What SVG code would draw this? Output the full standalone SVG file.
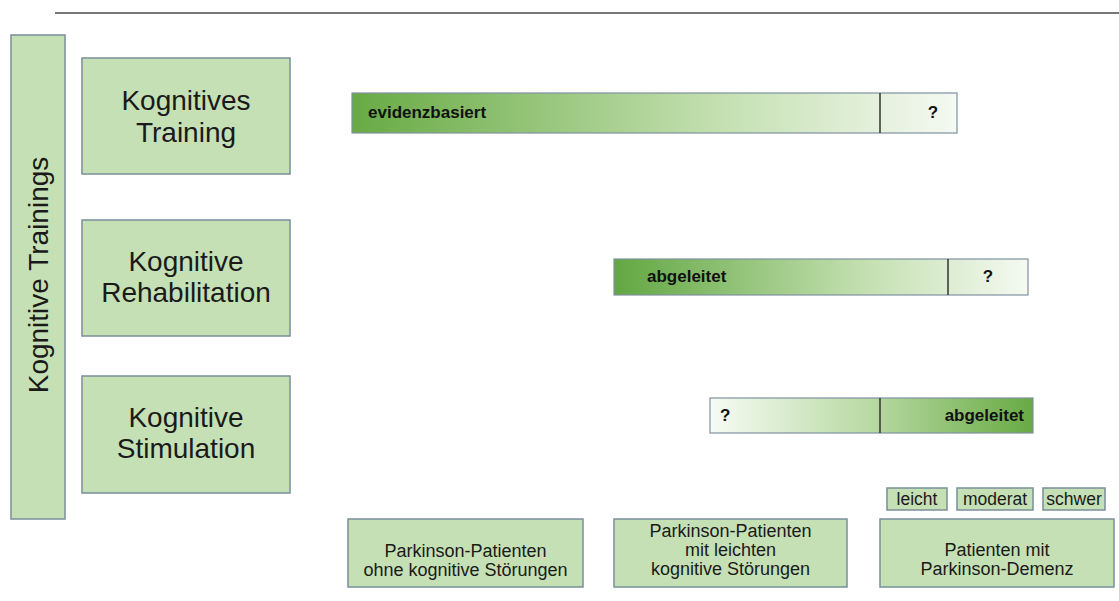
<svg xmlns="http://www.w3.org/2000/svg" width="1119" height="601" viewBox="0 0 1119 601">
  <defs>
    <linearGradient id="g1" x1="0" y1="0" x2="1" y2="0">
      <stop offset="0" stop-color="#68aa44"/>
      <stop offset="0.6" stop-color="#c3dfb0"/>
      <stop offset="1" stop-color="#f5f9f2"/>
    </linearGradient>
    <linearGradient id="g2" x1="0" y1="0" x2="1" y2="0">
      <stop offset="0" stop-color="#62a742"/>
      <stop offset="0.6" stop-color="#c3dfb0"/>
      <stop offset="1" stop-color="#f5f9f2"/>
    </linearGradient>
    <linearGradient id="g3" x1="0" y1="0" x2="1" y2="0">
      <stop offset="0" stop-color="#f7fbf4"/>
      <stop offset="0.5" stop-color="#b8d9a3"/>
      <stop offset="1" stop-color="#68aa44"/>
    </linearGradient>
    <style>
      .box { fill: #c5e0b4; stroke: #7a8f9a; stroke-width: 1.5; }
      .bar { stroke: #7f92a0; stroke-width: 1.2; }
      .div { stroke: #333333; stroke-width: 1.5; }
      .big { font-family: "Liberation Sans", Arial, sans-serif; font-size: 28px; fill: #1a1a1a; text-anchor: middle; }
      .mid { font-family: "Liberation Sans", Arial, sans-serif; font-size: 18px; fill: #1a1a1a; text-anchor: middle; }
      .sm { font-family: "Liberation Sans", Arial, sans-serif; font-size: 17.5px; fill: #1a1a1a; text-anchor: middle; }
      .bt { font-family: "Liberation Sans", Arial, sans-serif; font-size: 17px; font-weight: bold; fill: #111111; }
    </style>
  </defs>

  <line x1="55" y1="13" x2="1119" y2="13" stroke="#777777" stroke-width="2"/>

  <g id="kognitive-trainings">
    <rect class="box" x="11" y="35" width="54" height="484"/>
    <text class="big" transform="translate(48 275) rotate(-90)">Kognitive Trainings</text>
  </g>

  <g id="kognitives-training">
    <rect class="box" x="82" y="58" width="208" height="116"/>
    <text class="big" x="186" y="110">Kognitives</text>
    <text class="big" x="186" y="142">Training</text>
  </g>

  <g id="kognitive-rehabilitation">
    <rect class="box" x="82" y="220" width="208" height="116"/>
    <text class="big" x="186" y="271">Kognitive</text>
    <text class="big" x="186" y="302">Rehabilitation</text>
  </g>

  <g id="kognitive-stimulation">
    <rect class="box" x="82" y="376" width="208" height="117"/>
    <text class="big" x="186" y="427">Kognitive</text>
    <text class="big" x="186" y="458">Stimulation</text>
  </g>

  <g id="bar-training">
    <rect class="bar" x="352" y="93" width="605" height="40" fill="url(#g1)"/>
    <line class="div" x1="880" y1="93" x2="880" y2="133"/>
    <text class="bt" x="368" y="118">evidenzbasiert</text>
    <text class="bt" x="933" y="118" text-anchor="middle">?</text>
  </g>

  <g id="bar-rehabilitation">
    <rect class="bar" x="614" y="259" width="414" height="36" fill="url(#g2)"/>
    <line class="div" x1="948" y1="259" x2="948" y2="295"/>
    <text class="bt" x="647" y="282">abgeleitet</text>
    <text class="bt" x="988" y="282" text-anchor="middle">?</text>
  </g>

  <g id="bar-stimulation">
    <rect class="bar" x="710" y="398" width="323" height="35" fill="url(#g3)"/>
    <line class="div" x1="880" y1="398" x2="880" y2="433"/>
    <text class="bt" x="720" y="421">?</text>
    <text class="bt" x="1024" y="421" text-anchor="end">abgeleitet</text>
  </g>

  <g id="leicht">
    <rect class="box" x="887" y="488" width="60" height="22"/>
    <text class="sm" x="917" y="505">leicht</text>
  </g>
  <g id="moderat">
    <rect class="box" x="957" y="488" width="76" height="22"/>
    <text class="sm" x="995" y="505">moderat</text>
  </g>
  <g id="schwer">
    <rect class="box" x="1043" y="488" width="62" height="22"/>
    <text class="sm" x="1074" y="505">schwer</text>
  </g>

  <g id="patienten-ohne">
    <rect class="box" x="348" y="519" width="235" height="68"/>
    <text class="mid" x="465.5" y="557">Parkinson-Patienten</text>
    <text class="mid" x="465.5" y="576">ohne kognitive Störungen</text>
  </g>

  <g id="patienten-leicht">
    <rect class="box" x="614" y="519" width="233" height="68"/>
    <text class="mid" x="730.5" y="537">Parkinson-Patienten</text>
    <text class="mid" x="730.5" y="556">mit leichten</text>
    <text class="mid" x="730.5" y="575">kognitive Störungen</text>
  </g>

  <g id="patienten-demenz">
    <rect class="box" x="880" y="519" width="234" height="68"/>
    <text class="mid" x="997" y="556">Patienten mit</text>
    <text class="mid" x="997" y="575">Parkinson-Demenz</text>
  </g>

  <g id="connectors"></g>
</svg>
